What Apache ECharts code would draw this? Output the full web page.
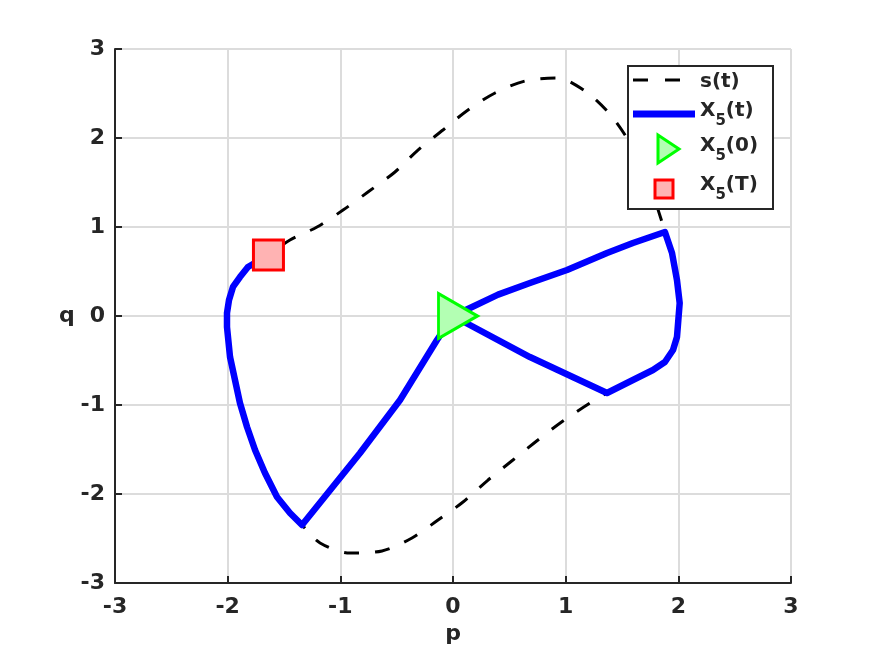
<!DOCTYPE html>
<html>
<head>
<meta charset="utf-8">
<script src="https://cdn.jsdelivr.net/npm/echarts@6/dist/echarts.min.js"></script>
<style>
    html, body { margin: 0; padding: 0; background: #fff; }
    #main { width: 874px; height: 656px; }
</style>
</head>
<body>
<div id="main"></div>
<script>
// s(t): closed reference curve (clockwise)
var sP = [-2.006, -1.988, -1.953, -1.891, -1.82, -1.638, -1.447, -1.207, -0.976, -0.755, -0.515, -0.311, -0.089, 0.133, 0.373, 0.639, 0.923, 1.171, 1.376, 1.527, 1.65, 1.77, 1.864, 1.944, 1.988, 2.012, 2.0, 1.988, 1.953, 1.881, 1.775, 1.597, 1.367, 1.216, 0.976, 0.754, 0.532, 0.311, 0.089, -0.133, -0.364, -0.63, -0.914, -1.18, -1.34, -1.447, -1.562, -1.669, -1.757, -1.828, -1.891, -1.935, -1.979, -2.006, -2.006];
var sQ = [0.034, 0.18, 0.326, 0.438, 0.551, 0.685, 0.854, 1.0, 1.19, 1.393, 1.618, 1.865, 2.09, 2.315, 2.506, 2.64, 2.674, 2.528, 2.292, 2.034, 1.75, 1.38, 1.022, 0.708, 0.404, 0.146, -0.045, -0.236, -0.382, -0.517, -0.607, -0.719, -0.865, -0.978, -1.18, -1.393, -1.618, -1.843, -2.09, -2.292, -2.494, -2.64, -2.663, -2.55, -2.348, -2.213, -2.034, -1.764, -1.506, -1.247, -0.978, -0.719, -0.461, -0.124, 0.034];

// X5(t): trajectory
var xP = [0, 0.151, 0.40, 0.683, 1.012, 1.367, 1.597, 1.881, 1.944, 1.988, 2.012, 2.0, 1.988, 1.953, 1.881, 1.775, 1.597, 1.367, 0.683, 0, -0.142, -0.47, -0.825, -1.34, -1.447, -1.562, -1.669, -1.757, -1.828, -1.891, -1.935, -1.979, -2.006, -2.006, -1.988, -1.953, -1.891, -1.82, -1.638];
var xQ = [0, 0.09, 0.24, 0.371, 0.517, 0.708, 0.82, 0.944, 0.708, 0.404, 0.146, -0.045, -0.236, -0.382, -0.517, -0.607, -0.719, -0.865, -0.461, 0, -0.27, -0.944, -1.54, -2.348, -2.213, -2.034, -1.764, -1.506, -1.247, -0.978, -0.719, -0.461, -0.124, 0.034, 0.18, 0.326, 0.438, 0.551, 0.685];

// start and end points
var x0 = [0, 0];
var xT = [-1.638, 0.685];

var ticks = [-3, -2, -1, 0, 1, 2, 3];

var txt = '#262626';
var font = 'DejaVu Sans';

function pairs(a, b) {
    var out = [];
    for (var i = 0; i < a.length; i++) {
        out.push([a[i], b[i]]);
    }
    return out;
}

function axis(name, gap, margin) {
    return {
        type: 'value',
        min: ticks[0],
        max: ticks[ticks.length - 1],
        interval: 1,
        name: name,
        nameLocation: 'middle',
        nameGap: gap,
        nameRotate: 0,
        nameTextStyle: { color: txt, fontSize: 22, fontWeight: 'bold', fontFamily: font },
        axisLine: { onZero: false, lineStyle: { color: txt, width: 2 } },
        axisTick: { inside: true, length: 7, lineStyle: { color: txt, width: 2 } },
        axisLabel: { margin: margin, color: txt, fontSize: 22, fontWeight: 'bold', fontFamily: font },
        splitLine: { show: true, lineStyle: { color: '#dcdcdc', width: 2 } }
    };
}

var myChart = echarts.init(document.getElementById('main'), null, { renderer: 'canvas' });

function legendLabel(text, y) {
    return {
        type: 'text', x: 700, y: y, z: 101,
        style: {
            text: text,
            fill: txt,
            fontSize: 20,
            fontWeight: 'bold',
            fontFamily: font,
            verticalAlign: 'middle',
            align: 'left',
            rich: { s: { fontSize: 15, fontWeight: 'bold', fontFamily: font, fill: txt, padding: [20, 0, 0, 0] } }
        }
    };
}

var option = {
    animation: false,
    backgroundColor: '#fff',
    grid: { left: 115, right: 83, top: 49, bottom: 73 },
    xAxis: axis('p', 39, 13),
    yAxis: axis('q', 37, 10),
    series: [{
        name: 's(t)',
        type: 'line',
        data: pairs(sP, sQ),
        smooth: 0.3,
        showSymbol: false,
        symbol: 'none',
        lineStyle: { color: '#000', width: 3, type: [15, 16] },
        z: 2
    }, {
        name: 'X5(t)',
        type: 'line',
        data: pairs(xP, xQ),
        showSymbol: false,
        symbol: 'none',
        lineStyle: { color: '#0000ff', width: 6.5, join: 'round', cap: 'round' },
        z: 3
    }, {
        name: 'X5(0)',
        type: 'scatter',
        data: [x0],
        symbol: 'path://M0 0L0 45L39 22.5Z',
        symbolSize: [39, 45],
        symbolOffset: [5, 0],
        itemStyle: { color: '#b3ffb3', borderColor: '#00ff00', borderWidth: 3, opacity: 1 },
        z: 4
    }, {
        name: 'X5(T)',
        type: 'scatter',
        data: [xT],
        symbol: 'rect',
        symbolSize: 30,
        itemStyle: { color: '#ffb3b3', borderColor: '#ff0000', borderWidth: 3, opacity: 1 },
        z: 4
    }],
    graphic: [{
        type: 'rect', z: 100,
        shape: { x: 628, y: 66, width: 145, height: 143 },
        style: { fill: '#fff', stroke: txt, lineWidth: 2 }
    }, {
        type: 'line', z: 101,
        shape: { x1: 633, y1: 80, x2: 695, y2: 80 },
        style: { stroke: '#000', lineWidth: 3, lineDash: [15, 17] }
    }, {
        type: 'line', z: 101,
        shape: { x1: 633, y1: 114, x2: 695, y2: 114 },
        style: { stroke: '#0000ff', lineWidth: 7 }
    }, {
        type: 'polygon', z: 101,
        shape: { points: [[658, 135], [658, 163], [679, 149]] },
        style: { fill: '#b3ffb3', stroke: '#00ff00', lineWidth: 3 }
    }, {
        type: 'rect', z: 101,
        shape: { x: 655, y: 180, width: 18, height: 18 },
        style: { fill: '#ffb3b3', stroke: '#ff0000', lineWidth: 3 }
    },
        legendLabel('s(t)', 82),
        legendLabel('X{s|5}(t)', 111),
        legendLabel('X{s|5}(0)', 146),
        legendLabel('X{s|5}(T)', 185)
    ]
};

myChart.setOption(option);
</script>
</body>
</html>
